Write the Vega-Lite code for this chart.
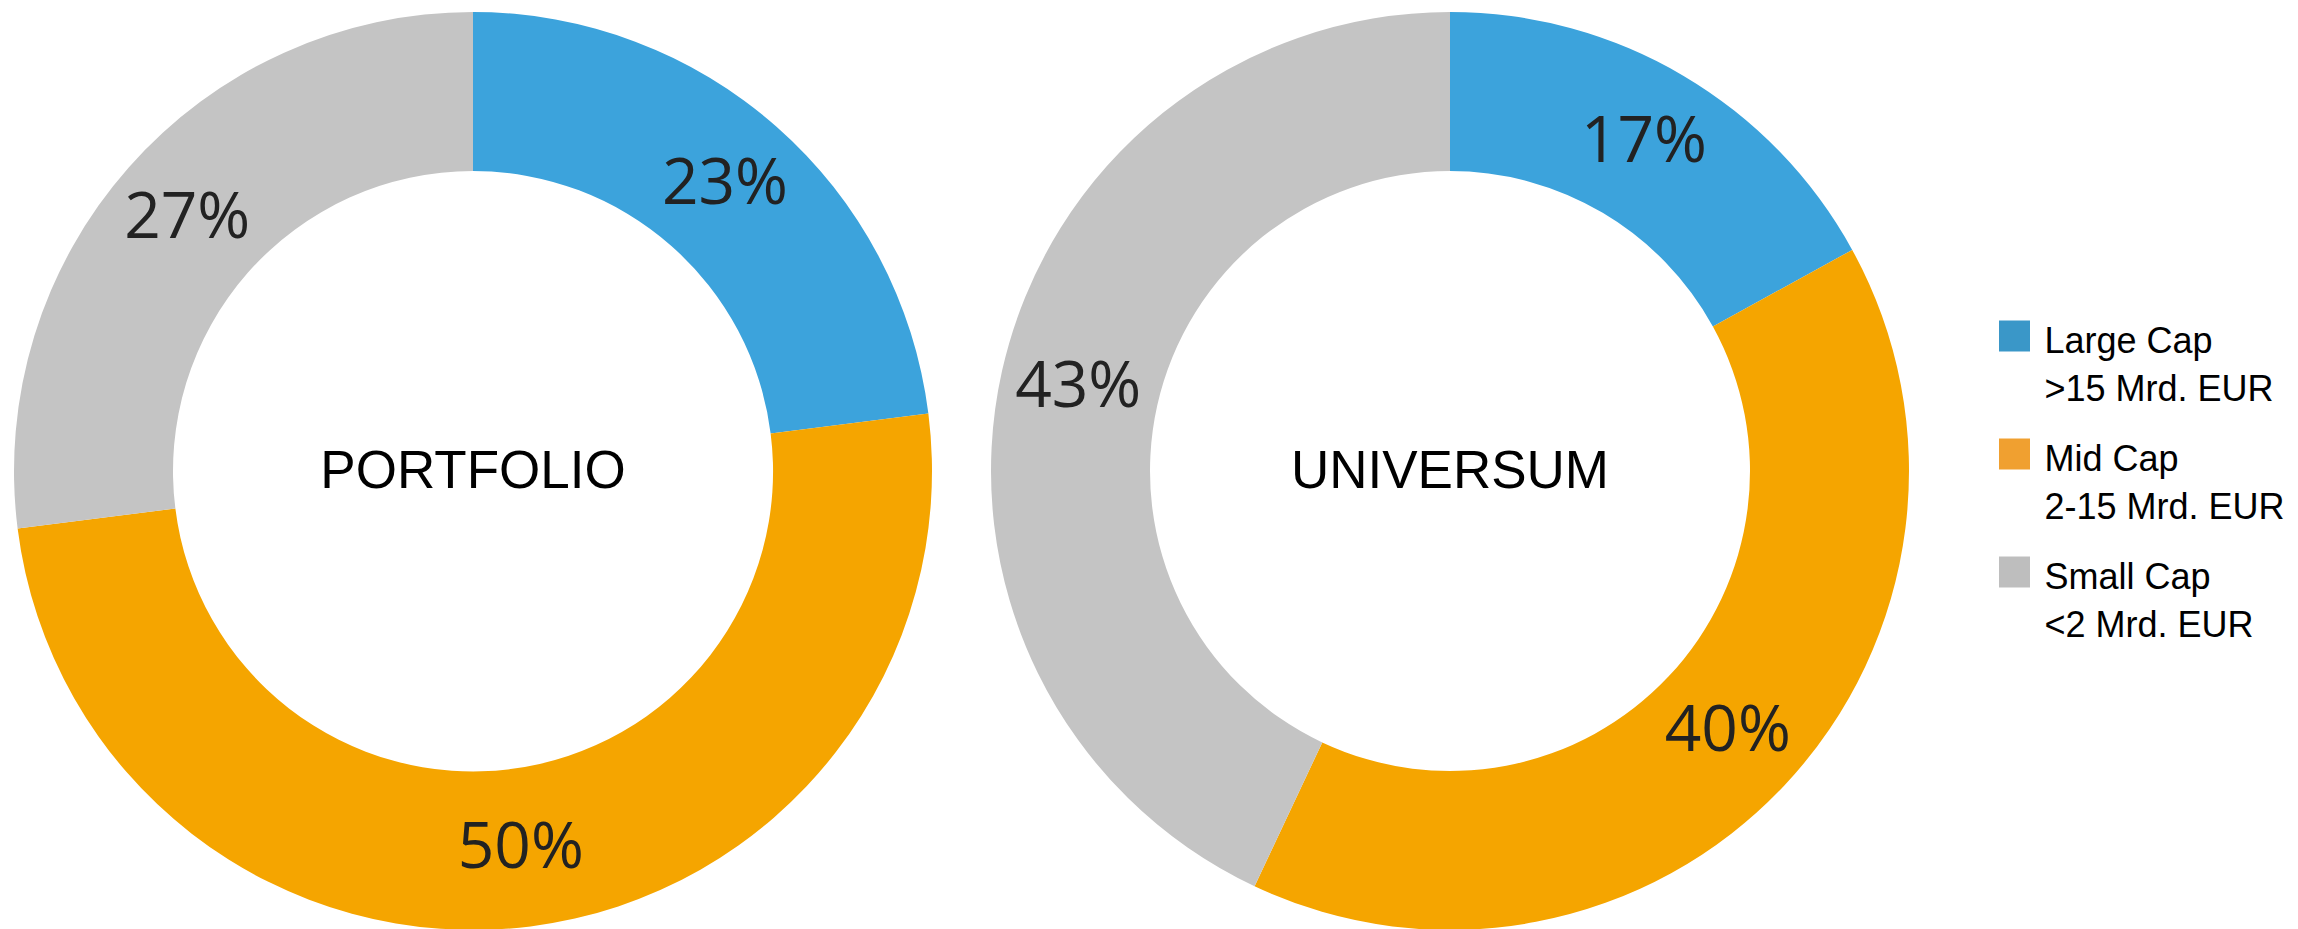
{
  "$schema": "https://vega.github.io/schema/vega-lite/v6.json",
  "padding": 0,
  "background": "#ffffff",
  "spacing": 31,
  "config": {"view": {"stroke": null}},
  "datasets": {
    "shares": [
      {"panel": "PORTFOLIO", "category": "Large Cap", "value": 23, "label": "23%", "ord": 1},
      {"panel": "PORTFOLIO", "category": "Mid Cap", "value": 50, "label": "50%", "ord": 2},
      {"panel": "PORTFOLIO", "category": "Small Cap", "value": 27, "label": "27%", "ord": 3},
      {"panel": "UNIVERSUM", "category": "Large Cap", "value": 17, "label": "17%", "ord": 1},
      {"panel": "UNIVERSUM", "category": "Mid Cap", "value": 40, "label": "40%", "ord": 2},
      {"panel": "UNIVERSUM", "category": "Small Cap", "value": 43, "label": "43%", "ord": 3}
    ],
    "legend": [
      {"category": "Large Cap", "text": "Large Cap\n>15 Mrd. EUR"},
      {"category": "Mid Cap", "text": "Mid Cap\n2-15 Mrd. EUR"},
      {"category": "Small Cap", "text": "Small Cap\n<2 Mrd. EUR"}
    ]
  },
  "resolve": {"scale": {"color": "independent"}},
  "hconcat": [
    {
      "width": 946,
      "height": 942,
      "data": {"name": "shares"},
      "transform": [{"filter": "datum.panel === 'PORTFOLIO'"}],
      "layer": [
        {
          "mark": {"type": "arc", "outerRadius": 459, "innerRadius": 300},
          "encoding": {
            "theta": {"field": "value", "type": "quantitative", "stack": true},
            "order": {"field": "ord", "type": "quantitative"},
            "color": {"field": "category", "type": "nominal", "legend": null,
              "scale": {"domain": ["Large Cap", "Mid Cap", "Small Cap"], "range": ["#3ca3dc", "#f5a500", "#c4c4c4"]}}
          }
        },
        {
          "mark": {"type": "text", "radius": 381, "font": "Open Sans", "fontSize": 64, "color": "#222222"},
          "encoding": {
            "theta": {"field": "value", "type": "quantitative", "stack": true},
            "order": {"field": "ord", "type": "quantitative"},
            "text": {"field": "label", "type": "nominal"}
          }
        },
        {
          "transform": [{"filter": "datum.ord === 1"}],
          "mark": {"type": "text", "font": "Liberation Sans", "fontSize": 53, "baseline": "alphabetic", "dy": 17, "color": "#000000"},
          "encoding": {"text": {"field": "panel", "type": "nominal"}}
        }
      ]
    },
    {
      "width": 946,
      "height": 942,
      "data": {"name": "shares"},
      "transform": [{"filter": "datum.panel === 'UNIVERSUM'"}],
      "layer": [
        {
          "mark": {"type": "arc", "outerRadius": 459, "innerRadius": 300},
          "encoding": {
            "theta": {"field": "value", "type": "quantitative", "stack": true},
            "order": {"field": "ord", "type": "quantitative"},
            "color": {"field": "category", "type": "nominal", "legend": null,
              "scale": {"domain": ["Large Cap", "Mid Cap", "Small Cap"], "range": ["#3ca3dc", "#f5a500", "#c4c4c4"]}}
          }
        },
        {
          "mark": {"type": "text", "radius": 381, "font": "Open Sans", "fontSize": 64, "color": "#222222"},
          "encoding": {
            "theta": {"field": "value", "type": "quantitative", "stack": true},
            "order": {"field": "ord", "type": "quantitative"},
            "text": {"field": "label", "type": "nominal"}
          }
        },
        {
          "transform": [{"filter": "datum.ord === 1"}],
          "mark": {"type": "text", "font": "Liberation Sans", "fontSize": 53, "baseline": "alphabetic", "dy": 17, "color": "#000000"},
          "encoding": {"text": {"field": "panel", "type": "nominal"}}
        }
      ]
    },
    {
      "width": 121,
      "height": 942,
      "data": {"name": "legend"},
      "layer": [
        {
          "mark": {"type": "point", "shape": "square", "filled": true, "size": 961, "opacity": 1, "strokeWidth": 0},
          "encoding": {
            "y": {"field": "category", "type": "nominal", "axis": null,
              "scale": {"type": "point", "domain": ["Large Cap", "Mid Cap", "Small Cap"], "range": [336, 572], "padding": 0}},
            "color": {"field": "category", "type": "nominal", "legend": null,
              "scale": {"domain": ["Large Cap", "Mid Cap", "Small Cap"], "range": ["#3a97c8", "#f0a030", "#bebebe"]}}
          }
        },
        {
          "mark": {"type": "text", "align": "left", "baseline": "alphabetic", "dx": 30, "dy": 17, "font": "Liberation Sans", "fontSize": 36, "lineBreak": "\n", "lineHeight": 48, "color": "#000000"},
          "encoding": {
            "y": {"field": "category", "type": "nominal", "axis": null,
              "scale": {"type": "point", "domain": ["Large Cap", "Mid Cap", "Small Cap"], "range": [336, 572], "padding": 0}},
            "text": {"field": "text", "type": "nominal"}
          }
        }
      ]
    }
  ]
}
